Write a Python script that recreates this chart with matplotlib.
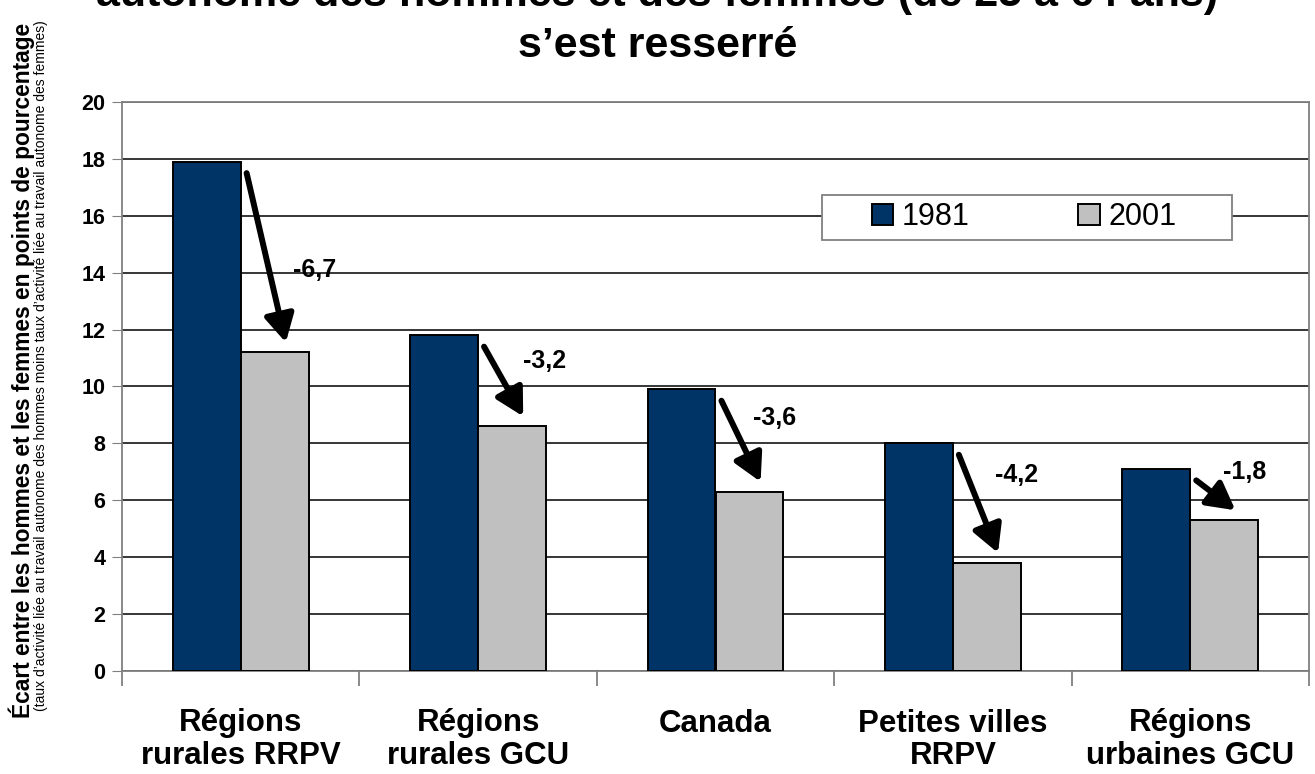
import numpy as np
import matplotlib
matplotlib.use('Agg')
import matplotlib.pyplot as plt
from matplotlib.patches import Rectangle

plt.rcParams['font.family'] = ['Liberation Sans', 'DejaVu Sans']

# donnees
categories = ['Régions\nrurales RRPV', 'Régions\nrurales GCU', 'Canada',
              'Petites villes\nRRPV', 'Régions\nurbaines GCU']
v1981 = [17.9, 11.8, 9.9, 8.0, 7.1]
v2001 = [11.2, 8.6, 6.3, 3.8, 5.3]
series_names = ['1981', '2001']
# position des etiquettes d'ecart (decalage x par rapport au centre, y)
label_dx = [0.31, 0.28, 0.25, 0.27, 0.23]
label_y = [14.1, 10.9, 8.9, 6.9, 7.0]

W, H = 1315, 774
fig = plt.figure(figsize=(W / 100, H / 100), dpi=100)
ax = fig.add_axes([122 / W, 1 - 671 / H, (1309 - 122) / W, (671 - 102) / H])

x = np.arange(len(categories))
bw = 0.286
ax.bar(x - bw / 2, v1981, bw, color='#003366', edgecolor='black', linewidth=1.4,
       label=series_names[0], zorder=3)
ax.bar(x + bw / 2, v2001, bw, color='#C0C0C0', edgecolor='black', linewidth=1.4,
       label=series_names[1], zorder=3)

# fleches + ecarts
for i in range(len(categories)):
    diff = v2001[i] - v1981[i]
    ax.annotate('', xy=(x[i] + 0.19, v2001[i] + 0.35), xytext=(x[i] + 0.025, v1981[i] - 0.4),
                arrowprops=dict(arrowstyle='-|>,head_length=1.1,head_width=0.6',
                                mutation_scale=15, color='black', lw=4.3,
                                shrinkA=0, shrinkB=0),
                zorder=5)
    ax.text(x[i] + label_dx[i], label_y[i], ('%.1f' % diff).replace('.', ','),
            fontsize=18, fontweight='bold', ha='center', va='center', zorder=5)

ax.set_xlim(-0.5, len(categories) - 0.5)
ax.set_ylim(0, 20)
ax.set_yticks(np.arange(0, 21, 2))
ax.yaxis.grid(True, color='black', linewidth=1.1, zorder=0)
ax.set_axisbelow(True)
for sp in ax.spines.values():
    sp.set_color('#808080')
    sp.set_linewidth(1.3)
ax.tick_params(axis='y', labelsize=15.5, length=7, color='#808080', pad=5)
for lab in ax.get_yticklabels():
    lab.set_fontweight('bold')

ax.set_xticks(x)
ax.set_xticklabels(categories, fontsize=22.5, fontweight='bold', linespacing=1.1)
ax.tick_params(axis='x', length=0, pad=27)
ax.set_xticks(np.arange(-0.5, len(categories), 1), minor=True)
ax.tick_params(axis='x', which='minor', length=11, color='#808080', width=1.3)

# legende: cadre dessine a part
axw, axh = 1309 - 122, 671 - 102
ax.add_patch(Rectangle(((822 - 122) / axw, (671 - 240) / axh), (1232 - 822) / axw, 45 / axh,
                       transform=ax.transAxes, facecolor='white', edgecolor='#808080',
                       linewidth=1.3, zorder=6))
leg = ax.legend(loc='center left', bbox_to_anchor=((872 - 122) / axw, (671 - 217.5) / axh),
                ncol=2, fontsize=22, frameon=False,
                handlelength=0.7, handleheight=0.7, handletextpad=0.28,
                columnspacing=3.55, borderpad=0, borderaxespad=0)
leg.set_zorder(7)

# titre (premiere ligne coupee en haut dans la reference)
fig.text(0.5, 1 - 6 / H, 'autonome des hommes et des femmes (de 25 à 64 ans)',
         ha='center', va='baseline', fontsize=31, fontweight='bold')
fig.text(0.5, 1 - 57 / H, 's\u2019est resserré',
         ha='center', va='baseline', fontsize=31, fontweight='bold')

# titre de l'axe y
fig.text(22 / W, 1 - 370 / H, 'Écart entre les hommes et les femmes en points de pourcentage',
         rotation=90, ha='center', va='center', fontsize=16.4, fontweight='bold')
fig.text(41 / W, 1 - 366 / H,
         '(taux d\u2019activité liée au travail autonome des hommes moins taux d\u2019activité liée au travail autonome des femmes)',
         rotation=90, ha='center', va='center', fontsize=10,
         family=['Liberation Sans Narrow', 'Liberation Sans', 'DejaVu Sans'])

fig.savefig('out.png', dpi=100)
